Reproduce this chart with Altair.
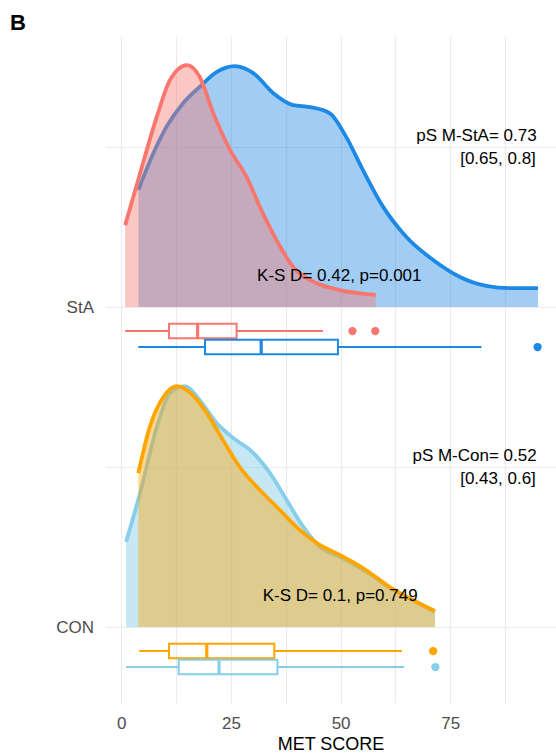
import altair as alt
import pandas as pd

# ---------------- data ----------------
# ridge panels (category -> value on the y scale)
panels = ["StA", "CON"]
panel_value = [2, 1]

# density ridges: x (MET SCORE) and height (in units of ridge spacing)
m_sta_x = [3.9, 7.3, 10.3, 14.1, 17.9, 21.7, 25.9, 30.1, 34.6, 39.2, 43.0, 47.5, 51.3, 55.1, 59.7, 65.0, 71.1, 77.2, 83.2, 88.5, 95.0]
m_sta_h = [0.366, 0.480, 0.563, 0.637, 0.688, 0.734, 0.753, 0.731, 0.669, 0.631, 0.625, 0.606, 0.531, 0.428, 0.313, 0.219, 0.147, 0.094, 0.066, 0.059, 0.059]
sta_x = [0.9, 4.3, 8.1, 11.1, 15.0, 17.9, 21.0, 24.8, 28.6, 31.6, 35.4, 39.2, 44.5, 49.8, 58.0]
sta_h = [0.256, 0.418, 0.594, 0.709, 0.756, 0.719, 0.606, 0.491, 0.406, 0.313, 0.209, 0.125, 0.075, 0.053, 0.038]
con_x = [1.1, 4.3, 8.1, 11.1, 14.5, 17.9, 21.7, 25.5, 30.1, 33.9, 37.7, 41.5, 45.3, 49.8, 55.9, 62.0, 67.3, 71.5]
con_h = [0.266, 0.419, 0.625, 0.731, 0.753, 0.709, 0.638, 0.591, 0.544, 0.481, 0.397, 0.313, 0.250, 0.219, 0.172, 0.116, 0.078, 0.047]
m_con_x = [3.9, 6.5, 9.6, 12.6, 15.6, 19.5, 23.2, 27.0, 31.6, 36.1, 40.7, 44.5, 49.8, 55.1, 61.2, 67.3, 71.5]
m_con_h = [0.481, 0.625, 0.719, 0.753, 0.734, 0.669, 0.584, 0.500, 0.428, 0.366, 0.303, 0.263, 0.225, 0.184, 0.125, 0.078, 0.050]

# series (drawing order) and colours
series = ["M·StA", "StA", "CON", "M·CON"]
series_panel = ["StA", "StA", "CON", "CON"]
series_colors = ["#1E88E5", "#F8766D", "#87CEEB", "#FFA500"]
series_fill_opacity = [0.42, 0.42, 0.48, 0.42]

# boxplot statistics
box_series = ["StA", "M·StA", "M·CON", "CON"]
box_slot = [0, 1, 0, 1]
box_lo = [0.9, 3.9, 4.1, 1.1]
box_q1 = [10.9, 19.1, 10.9, 13.1]
box_med = [17.4, 31.9, 19.5, 22.3]
box_q3 = [26.3, 49.4, 34.9, 35.6]
box_hi = [46.0, 82.1, 64.0, 64.5]
out_series = ["StA", "StA", "M·StA", "M·CON", "CON"]
out_x = [52.7, 57.9, 94.9, 71.1, 71.6]

# annotations
ann_text = ["pS M-StA= 0.73", "[0.65, 0.8]", "K-S D= 0.42, p=0.001",
            "pS M-Con= 0.52", "[0.43, 0.6]", "K-S D= 0.1, p=0.749"]
ann_x = [94.7, 94.5, 49.7, 94.7, 94.5, 49.9]
ann_y = [2.535, 2.4625, 2.097, 1.535, 1.4625, 1.097]
ann_align = ["right", "right", "center", "right", "right", "center"]

panel_tag = "B"

# ---------------- tables ----------------
pv = dict(zip(panels, panel_value))
sp = dict(zip(series, series_panel))
col = dict(zip(series, series_colors))
fop = dict(zip(series, series_fill_opacity))
curves = {"M·StA": (m_sta_x, m_sta_h), "StA": (sta_x, sta_h),
          "CON": (con_x, con_h), "M·CON": (m_con_x, m_con_h)}

half = 0.0225
box_rows = []
whisk_rows = []
for s, sl, lo, q1, md, q3, hi in zip(box_series, box_slot, box_lo, box_q1, box_med, box_q3, box_hi):
    yc = pv[sp[s]] - 0.075 - 0.05 * sl
    box_rows.append({"series": s, "q1": q1, "q3": q3, "med": md,
                     "y1": yc - half, "y2": yc + half, "yc": yc})
    whisk_rows.append({"series": s, "a": lo, "b": q1, "yc": yc})
    whisk_rows.append({"series": s, "a": q3, "b": hi, "yc": yc})
boxes = pd.DataFrame(box_rows)
whisk = pd.DataFrame(whisk_rows)
yc_of = dict(zip(boxes["series"], boxes["yc"]))
outs = pd.DataFrame({"series": out_series, "x": out_x, "yc": [yc_of[s] for s in out_series]})
ann = pd.DataFrame({"text": ann_text, "x": ann_x, "y": ann_y, "align": ann_align})

# ---------------- scales / axes ----------------
FONT = "Liberation Sans"
xs_ = alt.Scale(domain=[-3.7, 99.1], nice=False, zero=False)
ys_ = alt.Scale(domain=[0.7625, 2.847], nice=False, zero=False)
xaxis = alt.Axis(values=[0, 12.5, 25, 37.5, 50, 62.5, 75, 87.5],
                 labelExpr="datum.value % 25 == 0 ? datum.label : ''",
                 domain=False, ticks=False, grid=True, gridColor="#EBEBEB", gridWidth=1.2,
                 labelFontSize=17, labelColor="#4D4D4D", labelPadding=12, labelFont=FONT,
                 labelOverlap=False, labelFlush=False,
                 title="MET SCORE", titleFontSize=18, titleColor="black", titleFont=FONT,
                 titleFontWeight="normal", titleY=46, titleBaseline="alphabetic")
yaxis = alt.Axis(values=[1, 1.5, 2, 2.5],
                 labelExpr="datum.value == 2 ? 'StA' : (datum.value == 1 ? 'CON' : '')",
                 domain=False, ticks=False, grid=True, gridColor="#EBEBEB", gridWidth=1.2,
                 labelFontSize=17, labelColor="#4D4D4D", labelPadding=11.5, labelFont=FONT,
                 labelOverlap=False, title=None)
color = alt.Color("series:N", scale=alt.Scale(domain=series, range=series_colors), legend=None)


def X(f):
    return alt.X(f, type="quantitative", scale=xs_, axis=xaxis)


def Y(f):
    return alt.Y(f, type="quantitative", scale=ys_, axis=yaxis)


layers = []
for s in series:
    xs, hs = curves[s]
    b = pv[sp[s]]
    d = pd.DataFrame({"x": xs, "top": [b + h for h in hs], "base": [b] * len(xs)})
    base = alt.Chart(d)
    layers.append(base.mark_area(interpolate="monotone", fill=col[s], fillOpacity=fop[s],
                                 strokeWidth=0).encode(
        x=X("x"), y=Y("top"), y2=alt.Y2("base")))
    layers.append(base.mark_line(interpolate="monotone", strokeWidth=3.8, color=col[s]).encode(
        x=X("x"), y=Y("top")))

layers.append(alt.Chart(whisk).mark_rule(strokeWidth=2).encode(
    x=X("a"), x2="b:Q", y=Y("yc"), color=color))
layers.append(alt.Chart(boxes).mark_rect(filled=False, strokeWidth=2).encode(
    x=X("q1"), x2="q3:Q", y=Y("y1"), y2="y2:Q", stroke=color))
layers.append(alt.Chart(boxes).mark_rule(strokeWidth=3.2).encode(
    x=X("med"), y=Y("y1"), y2="y2:Q", color=color))
layers.append(alt.Chart(outs).mark_circle(size=68, opacity=1).encode(
    x=X("x"), y=Y("yc"), color=color))

for al in ["right", "center"]:
    layers.append(alt.Chart(ann[ann["align"] == al]).mark_text(
        align=al, baseline="middle", fontSize=17, font=FONT, color="black").encode(
        x=X("x"), y=Y("y"), text="text:N"))

# panel tag "B" in the top-left corner
layers.append(alt.Chart(pd.DataFrame({"t": [panel_tag]})).mark_text(
    align="left", baseline="alphabetic", fontSize=22, fontWeight="bold", font=FONT,
    color="black").encode(x=alt.value(-95), y=alt.value(-6), text="t:N"))

chart = alt.layer(*layers).properties(
    width=451, height=667,
    padding={"left": 105, "top": 36, "right": 0, "bottom": 50},
    autosize=alt.AutoSizeParams(type="none"),
    background="white",
).configure_view(stroke=None)

chart.save("out.html", embed_options={"renderer": "svg", "actions": False})
